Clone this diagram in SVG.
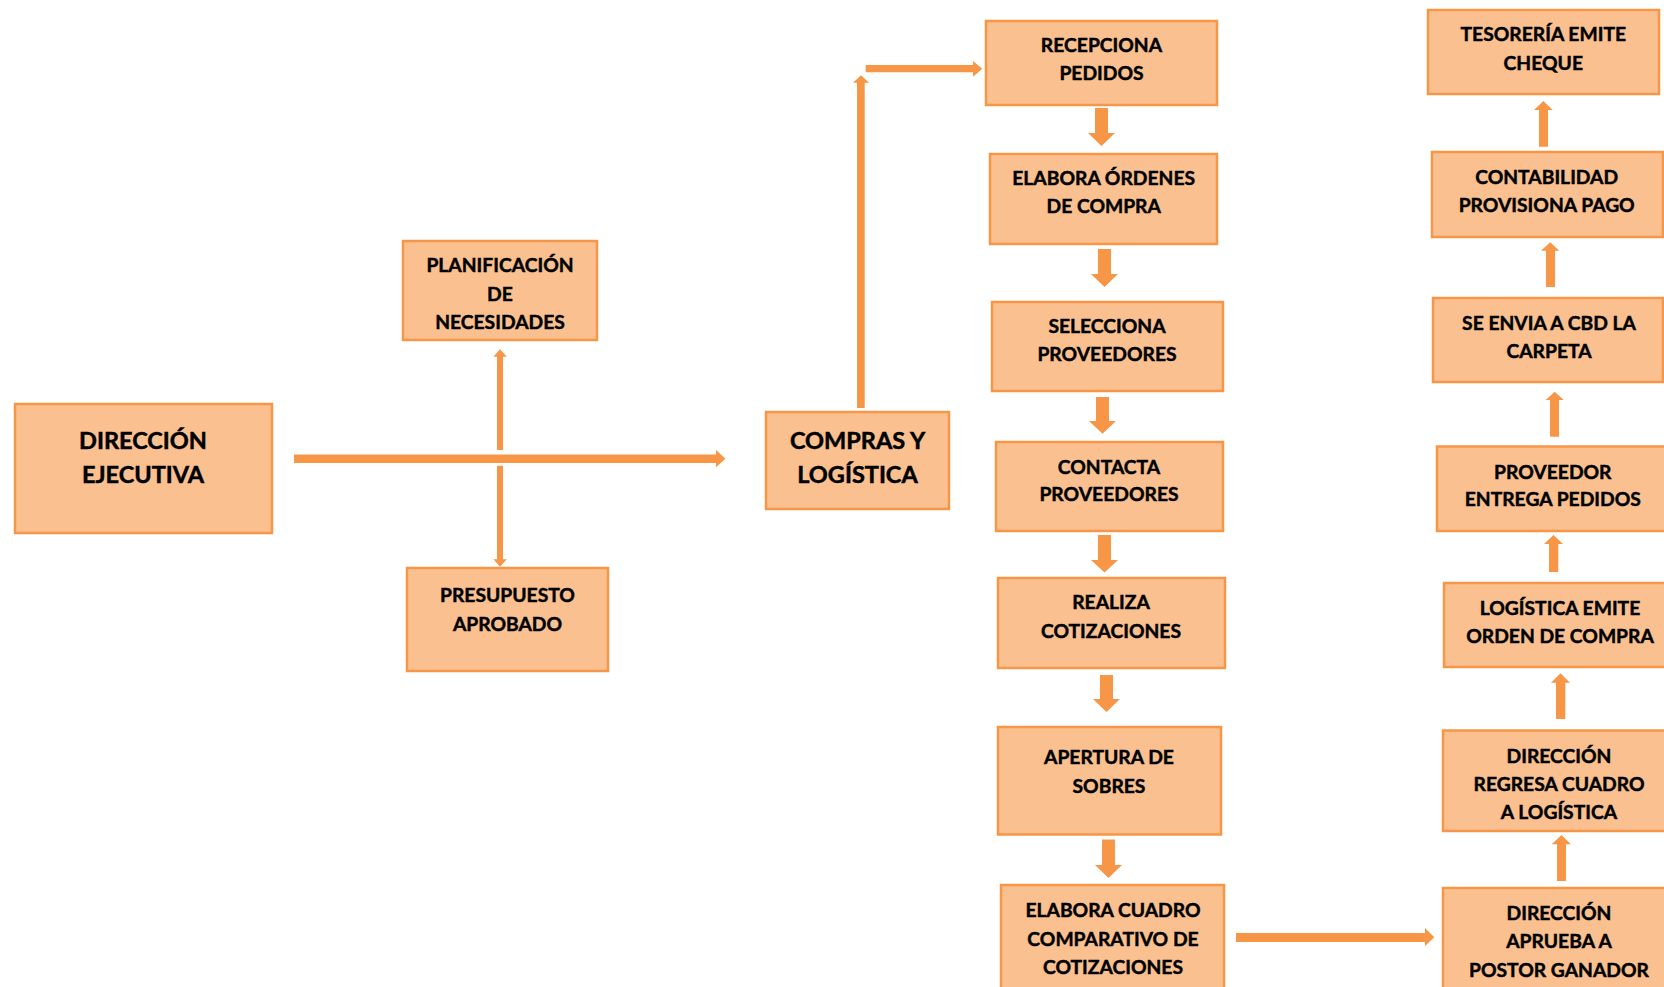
<svg xmlns="http://www.w3.org/2000/svg" width="1664" height="987" viewBox="0 0 1664 987">
  <style>
    .box { fill: #FAC090; stroke: #F79646; stroke-width: 2.5; }
    .lbl { font-family: Lato, "Open Sans", "Liberation Sans", sans-serif; font-weight: 700; font-size: 19.3px; fill: #000; stroke: #000; stroke-width: 0.45; text-anchor: middle; }
    .big { font-size: 23.5px; stroke-width: 0.5; }
    .arr { fill: #F79646; }
  </style>
  <rect width="1664" height="987" fill="#FFFFFF"/>

  <!-- connectors -->
  <g id="connectors">
    <!-- main horizontal: Dirección Ejecutiva to Compras y Logística -->
    <polygon class="arr" points="294,454.4 716,454.4 716,450 725.4,458.7 716,467.3 716,463 294,463"/>
    <!-- branch up to planning -->
    <polygon class="arr" points="497,450 497,356.7 493.4,356.7 500,349.3 506.8,356.7 503,356.7 503,450"/>
    <!-- branch down to budget -->
    <polygon class="arr" points="497,465.7 497,559.3 493.4,559.3 500,566.7 506.8,559.3 503,559.3 503,465.7"/>
    <!-- Compras y Logística up and across to Recepciona -->
    <polygon class="arr" points="857,408 857,82.7 853,82.7 861,75.3 869,82.7 864.7,82.7 864.7,408"/>
    <polygon class="arr" points="865.7,65 973,65 973,61 982.3,68.7 973,76.7 973,72.3 865.7,72.3"/>

    <!-- left column, downward -->
    <polygon class="arr" points="1095,108 1108,108 1108,133 1115,133 1101.5,146 1088,133 1095,133"/>
    <polygon class="arr" points="1098,249 1111,249 1111,274 1118,274 1104.5,287 1091,274 1098,274"/>
    <polygon class="arr" points="1096,397 1109,397 1109,421 1116,421 1102.5,433.7 1089,421 1096,421"/>
    <polygon class="arr" points="1098,535 1111,535 1111,560 1118,560 1104.5,572.6 1091,560 1098,560"/>
    <polygon class="arr" points="1100,675 1113,675 1113,699 1120,699 1106.5,712 1093,699 1100,699"/>
    <polygon class="arr" points="1102,839.5 1115,839.5 1115,865 1122,865 1108.5,878 1095,865 1102,865"/>

    <!-- cross-over to approval -->
    <polygon class="arr" points="1236,933 1425,933 1425,928 1434.3,937.3 1425,946 1425,942 1236,942"/>

    <!-- right column, upward -->
    <polygon class="arr" points="1557,881 1566,881 1566,844.3 1571,844.3 1561.5,835 1551.7,844.3 1557,844.3"/>
    <polygon class="arr" points="1556,719 1565.3,719 1565.3,682.7 1570,682.7 1560.5,673.3 1551,682.7 1556,682.7"/>
    <polygon class="arr" points="1549,572 1558.3,572 1558.3,544 1563,544 1553.5,535 1544,544 1549,544"/>
    <polygon class="arr" points="1550,436.7 1559,436.7 1559,400 1563.7,400 1554.7,391.7 1545.7,400 1550,400"/>
    <polygon class="arr" points="1546,287 1555,287 1555,250.7 1559.3,250.7 1550.2,242.3 1541,250.7 1546,250.7"/>
    <polygon class="arr" points="1539,146.7 1548,146.7 1548,110 1552.7,110 1543.4,101 1534,110 1539,110"/>
  </g>

  <!-- nodes -->
  <g id="direccion-ejecutiva">
    <rect class="box" x="15" y="404" width="257" height="129"/>
    <text class="lbl big" x="143" y="449">DIRECCIÓN</text>
    <text class="lbl big" x="143" y="483">EJECUTIVA</text>
  </g>
  <g id="planificacion">
    <rect class="box" x="403" y="241" width="194" height="99"/>
    <text class="lbl" x="500" y="272">PLANIFICACIÓN</text>
    <text class="lbl" x="500" y="301">DE</text>
    <text class="lbl" x="500" y="329">NECESIDADES</text>
  </g>
  <g id="presupuesto">
    <rect class="box" x="407" y="568" width="201" height="103"/>
    <text class="lbl" x="507.5" y="602">PRESUPUESTO</text>
    <text class="lbl" x="507.5" y="631">APROBADO</text>
  </g>
  <g id="compras-logistica">
    <rect class="box" x="766" y="412" width="183" height="97"/>
    <text class="lbl big" x="857.5" y="449">COMPRAS Y</text>
    <text class="lbl big" x="857.5" y="483">LOGÍSTICA</text>
  </g>
  <g id="recepciona">
    <rect class="box" x="986" y="21" width="231" height="84"/>
    <text class="lbl" x="1101.5" y="52.3">RECEPCIONA</text>
    <text class="lbl" x="1101.5" y="80">PEDIDOS</text>
  </g>
  <g id="elabora-ordenes">
    <rect class="box" x="990" y="154" width="227" height="90"/>
    <text class="lbl" x="1103.7" y="185">ELABORA ÓRDENES</text>
    <text class="lbl" x="1103.7" y="213.3">DE COMPRA</text>
  </g>
  <g id="selecciona">
    <rect class="box" x="992" y="302" width="231" height="89"/>
    <text class="lbl" x="1107" y="333.3">SELECCIONA</text>
    <text class="lbl" x="1107" y="361">PROVEEDORES</text>
  </g>
  <g id="contacta">
    <rect class="box" x="996" y="442" width="227" height="89"/>
    <text class="lbl" x="1109" y="473.5">CONTACTA</text>
    <text class="lbl" x="1109" y="501.4">PROVEEDORES</text>
  </g>
  <g id="realiza">
    <rect class="box" x="998" y="578" width="227" height="90"/>
    <text class="lbl" x="1111" y="609">REALIZA</text>
    <text class="lbl" x="1111" y="638">COTIZACIONES</text>
  </g>
  <g id="apertura">
    <rect class="box" x="998" y="727" width="223" height="107.5"/>
    <text class="lbl" x="1109" y="763.6">APERTURA DE</text>
    <text class="lbl" x="1109" y="792.5">SOBRES</text>
  </g>
  <g id="cuadro-comparativo">
    <rect class="box" x="1001" y="885" width="223" height="115"/>
    <text class="lbl" x="1113" y="916.6">ELABORA CUADRO</text>
    <text class="lbl" x="1113" y="945.5">COMPARATIVO DE</text>
    <text class="lbl" x="1113" y="974.1">COTIZACIONES</text>
  </g>
  <g id="tesoreria">
    <rect class="box" x="1428" y="10" width="231" height="84"/>
    <text class="lbl" x="1543.3" y="41">TESORERÍA EMITE</text>
    <text class="lbl" x="1543.3" y="70">CHEQUE</text>
  </g>
  <g id="contabilidad">
    <rect class="box" x="1432" y="152" width="231" height="85"/>
    <text class="lbl" x="1546.7" y="184.3">CONTABILIDAD</text>
    <text class="lbl" x="1546.7" y="212.3">PROVISIONA PAGO</text>
  </g>
  <g id="envia-cbd">
    <rect class="box" x="1433" y="298" width="230" height="84"/>
    <text class="lbl" x="1549" y="330">SE ENVIA A CBD LA</text>
    <text class="lbl" x="1549" y="358.3">CARPETA</text>
  </g>
  <g id="proveedor-entrega">
    <rect class="box" x="1437" y="446.5" width="240" height="84.5"/>
    <text class="lbl" x="1552.8" y="479">PROVEEDOR</text>
    <text class="lbl" x="1552.8" y="506">ENTREGA PEDIDOS</text>
  </g>
  <g id="logistica-emite">
    <rect class="box" x="1444" y="583" width="245" height="84"/>
    <text class="lbl" x="1560" y="615">LOGÍSTICA EMITE</text>
    <text class="lbl" x="1560" y="643.3">ORDEN DE COMPRA</text>
  </g>
  <g id="direccion-regresa">
    <rect class="box" x="1443" y="730.5" width="232" height="100.5"/>
    <text class="lbl" x="1559" y="762.7">DIRECCIÓN</text>
    <text class="lbl" x="1559" y="791">REGRESA CUADRO</text>
    <text class="lbl" x="1559" y="819">A LOGÍSTICA</text>
  </g>
  <g id="direccion-aprueba">
    <rect class="box" x="1443" y="888" width="232" height="115"/>
    <text class="lbl" x="1559" y="920">DIRECCIÓN</text>
    <text class="lbl" x="1559" y="948.3">APRUEBA A</text>
    <text class="lbl" x="1559" y="976.7">POSTOR GANADOR</text>
  </g>
</svg>
